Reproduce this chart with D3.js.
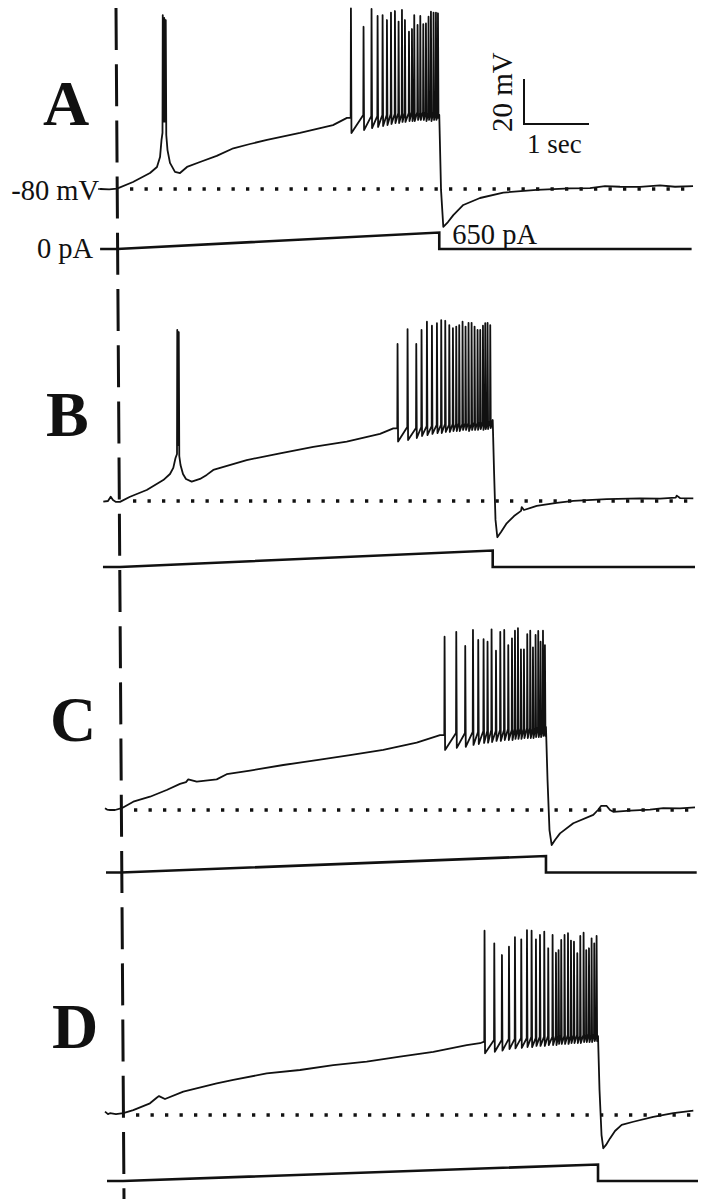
<!DOCTYPE html>
<html>
<head>
<meta charset="utf-8">
<script src="https://cdn.jsdelivr.net/npm/d3@7"></script>
<style>
body { margin: 0; background: #fff; }
text { font-family: "Liberation Serif", "Times New Roman", serif; fill: #111; }
</style>
</head>
<body>
<div id="chart"></div>
<script>
// membrane potential, [time (s) from ramp onset, mV], subthreshold parts
var vmA = [[-0.26,-80],[-0.12,-80.2],[0,-79.8],[0.246,-76.9],[0.508,-72.9],[0.615,-70.2],[0.662,-65.8],[0.685,-58.2],
  [0.777,-62.7],[0.815,-68.4],[0.892,-72.4],[0.969,-72.9],[1.077,-70.2],[1.277,-68],[1.534,-65.3],[1.79,-61.9],[2.046,-60],[2.308,-58.2],[2.815,-55.1],[3.323,-51.6],[3.538,-48.4],
  [4.958,-47.1],[4.985,-80.4],[5.02,-96.8],[5.092,-94.7],[5.174,-91.6],[5.328,-87.1],[5.585,-84],[5.943,-81.6],[6.457,-80.4],[6.969,-79.7],[7.277,-79.6],[7.508,-78.7],[7.738,-79],[8.046,-79.1],[8.354,-78.4],[8.585,-79],[8.862,-78.7]];
var vmB = [[-0.257,-80.3],[-0.185,-80],[-0.143,-78.1],[-0.108,-79.6],[-0.062,-80.4],[0,-80.4],[0.154,-78.1],[0.411,-75.1],[0.666,-70.7],[0.769,-68],[0.82,-65.3],[0.854,-60.9],
  [0.931,-64],[0.969,-68],[1.015,-70.2],[1.103,-71.4],[1.231,-70.2],[1.334,-68.4],[1.435,-66.2],[1.949,-61.8],[2.462,-58.8],[2.974,-55.9],[3.488,-53.6],[4.0,-50.2],[4.205,-47.7],
  [5.734,-44],[5.754,-66.2],[5.777,-88.4],[5.805,-96.1],[5.862,-93.8],[5.949,-89.9],[6.062,-86.7],[6.17,-84.4],[6.18,-82.7],[6.215,-84],[6.411,-82.2],[6.718,-80.8],[6.974,-79.9],[7.488,-79.2],[8.0,-78.8],[8.308,-78.9],[8.55,-78.5],[8.565,-77.6],[8.615,-78.7],[8.82,-78.8]];
var vmC = [[-0.246,-79.2],[-0.215,-79.8],[-0.169,-80],[-0.092,-80],[0.011,-79.2],[0.189,-76.3],[0.446,-74.1],[0.703,-71.1],[0.908,-68.4],[1.0,-67.6],[1.035,-66.4],[1.165,-67.4],[1.472,-66.4],[1.626,-64.1],[1.985,-62.5],[2.497,-60],[3.011,-57.8],[3.523,-55.6],[4.035,-53.3],[4.549,-50.1],[4.908,-46.7],
  [6.538,-43.1],[6.562,-66.7],[6.592,-88.9],[6.626,-95.6],[6.677,-93.3],[6.754,-90.4],[6.958,-85.9],[7.266,-82.2],[7.338,-80],[7.385,-78.2],[7.472,-78.2],[7.523,-80],[7.574,-80.8],[7.831,-80.3],[8.138,-79.8],[8.343,-79.2],[8.6,-79.3],[8.831,-78.8]];
var vmD = [[-0.277,-78.5],[-0.231,-79.6],[-0.2,-79.2],[-0.108,-79.6],[0.005,-79.2],[0.158,-77.8],[0.415,-74.8],[0.523,-72.2],[0.554,-71.6],[0.646,-72.9],[0.928,-69.6],[1.442,-65.9],[1.697,-64.4],[2.211,-61.5],[2.723,-60],[3.235,-57.8],[3.749,-56.3],[4.262,-54.1],[4.774,-51.9],[5.288,-48.9],[5.492,-48.1],
  [7.308,-44.9],[7.331,-68.9],[7.362,-88.9],[7.389,-94.8],[7.431,-93.3],[7.492,-90.4],[7.569,-87.1],[7.672,-84.4],[7.851,-83],[8.158,-80.8],[8.466,-79.2],[8.774,-78.1]];

// spikes: onset time (s), level before (mV), peak (mV), trough after (mV)
var spikeA_t = [0.700,0.723,0.746, 3.595,3.789,3.912,4.005,4.082,4.149,4.211,4.272,4.328,4.380,4.426,4.488,4.534,4.569,4.620,4.662,4.708,4.749,4.789,4.826,4.866,4.903,4.934];
var spikeA_pre = [-55.1,-50,-50, -48.4,-47.1,-47.6,-47.6,-47.1,-47.1,-46.7,-46.7,-46.2,-46.7,-46.2,-46.2,-45.8,-46.2,-45.8,-46.2,-45.8,-45.8,-46.2,-45.8,-45.8,-46.2,-46.2];
var spikeA_peak = [-2.7,-4,-4.9, 0.3,-7.9,0,-3.1,-2.7,-4.9,-1.6,-0.9,-5.6,-0.4,-4.9,-10.1,-8.9,-2.7,-7.1,-3.1,-6.7,-6.4,-3.4,-1.2,-1.6,-1.6,-1.9];
var spikeA_trough = [-50,-50,-56, -55.1,-53.8,-52.9,-52.4,-52,-51.6,-51.1,-50.7,-50.7,-50.2,-50.2,-49.8,-49.8,-49.8,-49.3,-49.3,-49.3,-49.8,-49.3,-49.8,-49.3,-49.3,-48.4];

var spikeB_t = [0.877,0.900, 4.266,4.420,4.554,4.635,4.718,4.795,4.872,4.938,5.0,5.062,5.118,5.169,5.215,5.266,5.312,5.358,5.405,5.451,5.497,5.538,5.580,5.615,5.651,5.692];
var spikeB_pre = [-59.1,-55.1, -47.6,-47.1,-47.6,-47.1,-46.7,-46.7,-46.2,-46.2,-45.8,-46.2,-45.8,-45.8,-45.3,-45.8,-45.3,-45.3,-45.8,-44.9,-45.3,-44.9,-44.9,-44.4,-44.9,-44.4];
var spikeB_peak = [-4,-4.9, -10.2,-3.6,-10.2,-4,-0.3,-2.1,-1,0.4,0.1,-1.8,-3.2,-2.5,-1.8,-0.3,-2.5,-0.8,-0.8,-2.5,-4,-4,-2.1,-1,-0.8,-1.8];
var spikeB_trough = [-55.1,-60, -53.6,-52.9,-52,-51.1,-50.7,-50.2,-49.8,-49.8,-49.3,-49.3,-48.9,-48.9,-48.9,-48.4,-48.4,-48.9,-48.4,-48.4,-48.4,-48,-48.4,-48,-48,-47.6];

var spikeC_t = [4.974,5.154,5.292,5.411,5.492,5.574,5.635,5.697,5.765,5.831,5.892,5.954,6.011,6.057,6.103,6.149,6.195,6.246,6.292,6.334,6.374,6.415,6.451,6.488,6.518];
var spikeC_pre = [-46.7,-45.8,-45.8,-45.3,-45.3,-44.9,-44.9,-44.4,-44.9,-44.4,-44.4,-44,-44.4,-44,-44,-43.6,-44,-43.6,-43.6,-44,-43.6,-43.1,-43.6,-43.1,-43.1];
var spikeC_peak = [-3,-0.8,-7.1,0,-4.4,-4.1,-5.2,0.3,-9.2,-0.8,0,-6.7,-3.7,-0.3,0.8,-8.6,-8.6,-1.8,-0.3,-7.7,-2.2,-0.4,-5.2,-0.3,-6.7];
var spikeC_trough = [-53.3,-52.4,-51.9,-51.1,-50.7,-50.2,-50.1,-49.8,-49.3,-49.3,-48.9,-48.9,-48.9,-48.4,-48.4,-48.4,-48,-48,-48,-48,-47.6,-47.6,-47.6,-47.1,-47.1];

var spikeD_t = [5.558,5.708,5.826,5.934,6.026,6.123,6.211,6.282,6.349,6.411,6.477,6.538,6.605,6.657,6.697,6.738,6.789,6.842,6.888,6.934,6.985,7.031,7.082,7.123,7.165,7.205,7.246,7.282];
var spikeD_pre = [-47.4,-46.7,-46.7,-46.2,-46.2,-45.8,-45.8,-45.3,-45.8,-45.3,-45.3,-44.9,-45.3,-44.9,-44.9,-44.4,-44.9,-44.4,-44.9,-44.4,-44.4,-44.9,-44.4,-44.4,-44,-44.4,-44,-44.4];
var spikeD_peak = [1.9,-3.7,-8.9,-5.2,-1,-1.9,2.2,1.9,-1.9,0,1.5,-5.9,0,-7.9,-6.7,-2.2,0,0.8,-2.5,-3,-8.1,-0.4,1,-6.7,-5.9,-1.5,-3.7,-0.4];
var spikeD_trough = [-52.6,-51.9,-51.4,-50.7,-50.4,-50.2,-49.8,-49.8,-49.3,-49.3,-49.3,-48.9,-48.9,-48.9,-48.4,-48.4,-48.4,-48.4,-48,-48,-48,-48,-47.6,-47.6,-47.6,-47.6,-47.1,-47.1];

// injected current (ramp then step back to 0)
var curA_t = [-0.26, 0, 4.958, 4.958, 8.84];
var curB_t = [-0.262, 0, 5.734, 5.734, 8.846];
var curC_t = [-0.231, 0, 6.538, 6.538, 8.857];
var curD_t = [-0.246, 0, 7.308, 7.308, 8.846];
var cur_pA = [0, 0, 650, 0, 0];

var restMV = -80;
var refLine_t = [0.2, 8.85];
var scaleBar = { sec: 1, mV: 20 };

var width = 705, height = 1199;
var pxPerSec = 65, pxPer20mV = 45, pxPer650pA = 16.5;
var spikeRise = 0.004, spikeFall = 0.008;

var panels = [
  { key: "A", vm: vmA, t: spikeA_t, pre: spikeA_pre, peak: spikeA_peak, trough: spikeA_trough, cur: curA_t, x0: 117, yBase: 189, yI0: 249, lx: 43, ly: 125 },
  { key: "B", vm: vmB, t: spikeB_t, pre: spikeB_pre, peak: spikeB_peak, trough: spikeB_trough, cur: curB_t, x0: 120, yBase: 501, yI0: 567, lx: 46, ly: 436 },
  { key: "C", vm: vmC, t: spikeC_t, pre: spikeC_pre, peak: spikeC_peak, trough: spikeC_trough, cur: curC_t, x0: 121, yBase: 810, yI0: 872.5, lx: 50, ly: 741 },
  { key: "D", vm: vmD, t: spikeD_t, pre: spikeD_pre, peak: spikeD_peak, trough: spikeD_trough, cur: curD_t, x0: 123, yBase: 1115, yI0: 1181, lx: 52, ly: 1048 }
];

var svg = d3.select("#chart")
  .append("svg")
  .attr("width", width)
  .attr("height", height);

// onset marker across all panels
svg.append("line")
  .attr("x1", panels[0].x0 - 1).attr("y1", 8)
  .attr("x2", panels[3].x0 + 1).attr("y2", height)
  .attr("stroke", "#111")
  .attr("stroke-width", 3)
  .attr("stroke-dasharray", "42 14.2");

panels.forEach(function(p) {
  var x = d3.scaleLinear().domain([0, 1]).range([p.x0, p.x0 + pxPerSec]);
  var y = d3.scaleLinear().domain([restMV, restMV + 20]).range([p.yBase, p.yBase - pxPer20mV]);
  var yI = d3.scaleLinear().domain([0, 650]).range([p.yI0, p.yI0 - pxPer650pA]);
  p.x = x; p.y = y;

  var g = svg.append("g");

  // -80 mV reference
  g.append("line")
    .attr("x1", x(refLine_t[0])).attr("x2", x(refLine_t[1]))
    .attr("y1", y(restMV)).attr("y2", y(restMV))
    .attr("stroke", "#111")
    .attr("stroke-width", 3.3)
    .attr("stroke-dasharray", "3.3 11.2");

  var pts = p.vm.map(function(d) { return { t: d[0], v: d[1] }; });
  p.t.forEach(function(t, i) {
    pts.push({ t: t, v: p.pre[i] });
    pts.push({ t: t + spikeRise, v: p.peak[i] });
    pts.push({ t: t + spikeRise + spikeFall, v: p.trough[i] });
  });
  pts.sort(function(a, b) { return a.t - b.t; });

  var line = d3.line()
    .x(function(d) { return x(d.t); })
    .y(function(d) { return y(d.v); });

  g.append("path")
    .attr("d", line(pts))
    .attr("fill", "none")
    .attr("stroke", "#111")
    .attr("stroke-width", 1.8)
    .attr("stroke-linejoin", "round");

  var curLine = d3.line()
    .x(function(d) { return x(d[0]); })
    .y(function(d) { return yI(d[1]); });

  g.append("path")
    .attr("d", curLine(p.cur.map(function(t, i) { return [t, cur_pA[i]]; })))
    .attr("fill", "none")
    .attr("stroke", "#111")
    .attr("stroke-width", 2.6);

  g.append("text")
    .attr("x", p.lx).attr("y", p.ly)
    .attr("font-size", 64)
    .attr("font-weight", "bold")
    .text(p.key);
});

// labels in panel A
var pA = panels[0];
svg.append("text")
  .attr("x", pA.x(pA.cur[0]) - 1).attr("y", pA.y(restMV) + 11)
  .attr("text-anchor", "end")
  .attr("font-size", 28.5)
  .text("-80 mV");
svg.append("line")
  .attr("x1", pA.x(pA.cur[0]) - 2).attr("x2", pA.x(pA.cur[0]) + 2)
  .attr("y1", pA.y(restMV)).attr("y2", pA.y(restMV))
  .attr("stroke", "#111").attr("stroke-width", 1.5);
svg.append("text")
  .attr("x", pA.x(pA.cur[0]) - 7).attr("y", pA.yI0 + 9)
  .attr("text-anchor", "end")
  .attr("font-size", 28.5)
  .text("0 pA");
svg.append("text")
  .attr("x", pA.x(pA.cur[2]) + 13).attr("y", 244)
  .attr("font-size", 28.5)
  .text("650 pA");

// scale bar
var sbX = 524, sbY = 124;
var sbW = pA.x(scaleBar.sec) - pA.x(0);
var sbH = pA.y(restMV) - pA.y(restMV + scaleBar.mV);
svg.append("path")
  .attr("d", "M" + sbX + "," + (sbY - sbH) + "V" + sbY + "H" + (sbX + sbW))
  .attr("fill", "none")
  .attr("stroke", "#111")
  .attr("stroke-width", 2);
svg.append("text")
  .attr("transform", "translate(" + (sbX - 12) + "," + (sbY + 8) + ") rotate(-90)")
  .attr("font-size", 29)
  .text(scaleBar.mV + " mV");
svg.append("text")
  .attr("x", sbX + 3).attr("y", sbY + 29)
  .attr("font-size", 27)
  .text(scaleBar.sec + " sec");
</script>
</body>
</html>
